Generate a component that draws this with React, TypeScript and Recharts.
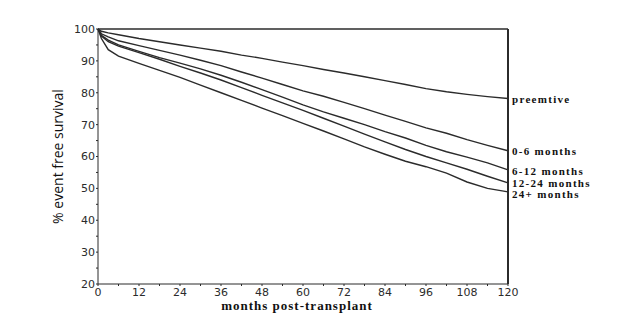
import { LineChart, Line, XAxis, YAxis, ReferenceLine } from "recharts";

const months = [0, 1, 3, 6, 12, 18, 24, 30, 36, 42, 48, 54, 60, 66, 72, 78, 84, 90, 96, 102, 108, 114, 120];

const preemptive = [100, 99.3, 98.8, 98.2, 97, 96, 95, 94, 93, 91.8, 90.8, 89.6, 88.5, 87.3, 86.2, 85, 83.8, 82.6, 81.3, 80.3, 79.5, 78.8, 78.2];
const m0to6 = [100, 98.5, 97.5, 96.3, 94.8, 93.3, 91.8, 90.2, 88.5, 86.5, 84.6, 82.6, 80.6, 78.9, 77, 75, 73, 71, 69, 67.3, 65.3, 63.5, 61.8];
const m6to12 = [100, 98, 96.5, 95, 93, 91, 89.3, 87.5, 85.5, 83.3, 81, 78.6, 76.2, 74, 72, 70, 67.8, 65.8, 63.5, 61.5, 59.8, 58, 55.8];
const m12to24 = [100, 97.8, 96, 94.6, 92.6, 90.5, 88.3, 86.2, 84, 81.6, 79.2, 76.8, 74.5, 72, 69.5, 67, 64.6, 62.2, 60, 58, 56, 53.8, 51.7];
const m24plus = [100, 97, 93.5, 91.5, 89.2, 87, 84.8, 82.4, 80, 77.6, 75.2, 72.8, 70.4, 68, 65.5, 63, 60.7, 58.5, 56.8, 54.8, 52, 50, 48.9];

const xTicks = [0, 6, 12, 18, 24, 30, 36, 42, 48, 54, 60, 66, 72, 78, 84, 90, 96, 102, 108, 114, 120];
const yTicks = [20, 25, 30, 35, 40, 45, 50, 55, 60, 65, 70, 75, 80, 85, 90, 95, 100];

const seriesNames = ["preemtive", "0-6 months", "6-12 months", "12-24 months", "24+ months"];
const seriesKeys = ["preemptive", "m0to6", "m6to12", "m12to24", "m24plus"];
const labelShift = [2, 2, 3, 2, 4];

const data = months.map((m, i) => ({
  month: m,
  preemptive: preemptive[i],
  m0to6: m0to6[i],
  m6to12: m6to12[i],
  m12to24: m12to24[i],
  m24plus: m24plus[i],
}));

const ink = "#2b2b2b";
const tickFont = { fill: ink, fontSize: 11, fontFamily: "DejaVu Sans" };

function endLabel(text: string, dy: number) {
  return (props: any) => {
    if (props.index !== months.length - 1) return <g />;
    return (
      <text
        x={props.x + 4}
        y={props.y + dy}
        dominantBaseline="middle"
        fill="#111"
        fontSize={11}
        fontWeight="bold"
        letterSpacing={1.3}
        fontFamily="Liberation Serif"
      >
        {text}
      </text>
    );
  };
}

export default function App() {
  return (
    <LineChart
      width={630}
      height={317}
      data={data}
      margin={{ top: 21, right: 130, bottom: 11, left: 10 }}
    >
      <XAxis
        dataKey="month"
        type="number"
        domain={[0, 120]}
        ticks={xTicks}
        interval={0}
        tickSize={2}
        tickMargin={2}
        stroke={ink}
        tick={tickFont}
        tickFormatter={(v: number) => (v % 12 === 0 ? String(v) : "")}
        height={30}
        label={{
          value: "months post-transplant",
          position: "bottom",
          offset: -13,
          dx: -6,
          fill: "#111",
          fontSize: 13,
          fontWeight: "bold",
          letterSpacing: 1,
          fontFamily: "Liberation Serif",
        }}
      />
      <YAxis
        type="number"
        domain={[20, 100]}
        ticks={yTicks}
        interval={0}
        tickSize={2}
        tickMargin={1}
        stroke={ink}
        tick={tickFont}
        tickFormatter={(v: number) => (v % 10 === 0 ? String(v) : "")}
        width={80}
        label={{
          value: "% event free survival",
          angle: -90,
          position: "center",
          fill: "#111",
          fontSize: 14,
          fontFamily: "Open Sans",
        }}
      />
      <ReferenceLine y={100} stroke={ink} strokeWidth={1.5} />
      <ReferenceLine x={120} stroke={ink} strokeWidth={2} />
      {seriesKeys.map((key, i) => (
        <Line
          key={key}
          dataKey={key}
          type="linear"
          stroke={ink}
          strokeWidth={1.4}
          dot={false}
          isAnimationActive={false}
          label={endLabel(seriesNames[i], labelShift[i])}
        />
      ))}
    </LineChart>
  );
}
